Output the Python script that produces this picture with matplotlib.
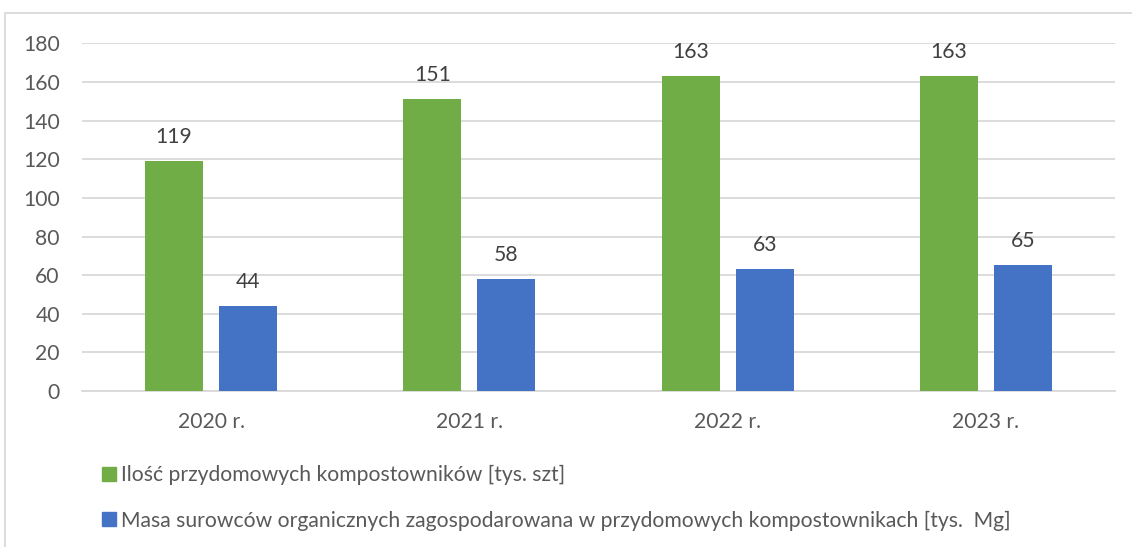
import matplotlib

matplotlib.use("Agg")
import matplotlib.pyplot as plt
import numpy as np
from matplotlib.lines import Line2D
from matplotlib.patches import Rectangle

years = ["2020 r.", "2021 r.", "2022 r.", "2023 r."]
kompostowniki = [119, 151, 163, 163]
masa = [44, 58, 63, 65]
series_labels = [
    "Ilość przydomowych kompostowników [tys. szt]",
    "Masa surowców organicznych zagospodarowana w przydomowych kompostownikach [tys.  Mg]",
]
y_ticks = [0, 20, 40, 60, 80, 100, 120, 140, 160, 180]

GREEN = "#70ad47"
BLUE = "#4472c4"
TEXT = "#595959"
GRID = "#d9d9d9"
FS = 15.2

W, H = 1132, 547
plt.rcParams["font.family"] = ["Lato", "DejaVu Sans"]

fig = plt.figure(figsize=(W / 100, H / 100), dpi=100)
ax = fig.add_axes([82 / W, (H - 391) / H, (1115 - 82) / W, (391 - 43.4) / H])

x = np.arange(len(years))
bar_w = 58 / 258
offset = 37 / 258
bars_g = ax.bar(x - offset, kompostowniki, width=bar_w, color=GREEN, zorder=3)
bars_b = ax.bar(x + offset, masa, width=bar_w, color=BLUE, zorder=3)

for bars in (bars_g, bars_b):
    for rect in bars:
        ax.annotate(
            f"{rect.get_height():.0f}",
            (rect.get_x() + rect.get_width() / 2, rect.get_height()),
            xytext=(0, 14),
            textcoords="offset pixels",
            ha="center",
            va="bottom",
            fontsize=FS,
            color="#404040",
        )

ax.set_xlim(-0.5, len(years) - 0.5)
ax.set_ylim(0, 180)
ax.set_yticks(y_ticks)
ax.set_xticks(x, years)
ax.tick_params(axis="both", length=0, labelsize=FS, colors=TEXT)
ax.tick_params(axis="y", pad=16)
ax.tick_params(axis="x", pad=15)
ax.yaxis.grid(True, color=GRID, linewidth=1.3, zorder=0)
for side in ("top", "right", "left"):
    ax.spines[side].set_visible(False)
ax.spines["bottom"].set_color(GRID)
ax.spines["bottom"].set_linewidth(1.3)

handles = [
    Line2D([], [], marker="s", linestyle="none", markersize=10.5, color=GREEN),
    Line2D([], [], marker="s", linestyle="none", markersize=10.5, color=BLUE),
]
fig.legend(
    handles,
    series_labels,
    loc="upper left",
    bbox_to_anchor=(101 / W, (H - 465) / H),
    frameon=False,
    fontsize=FS,
    labelcolor=TEXT,
    handlelength=0.75,
    handletextpad=0.2,
    labelspacing=1.2,
    borderaxespad=0,
    borderpad=0,
)

fig.add_artist(
    Rectangle(
        (5 / W, -0.1),
        1.2,
        (H - 13) / H + 0.1,
        transform=fig.transFigure,
        fill=False,
        edgecolor=GRID,
        linewidth=1.3,
    )
)

fig.savefig("out.png", dpi=100)
